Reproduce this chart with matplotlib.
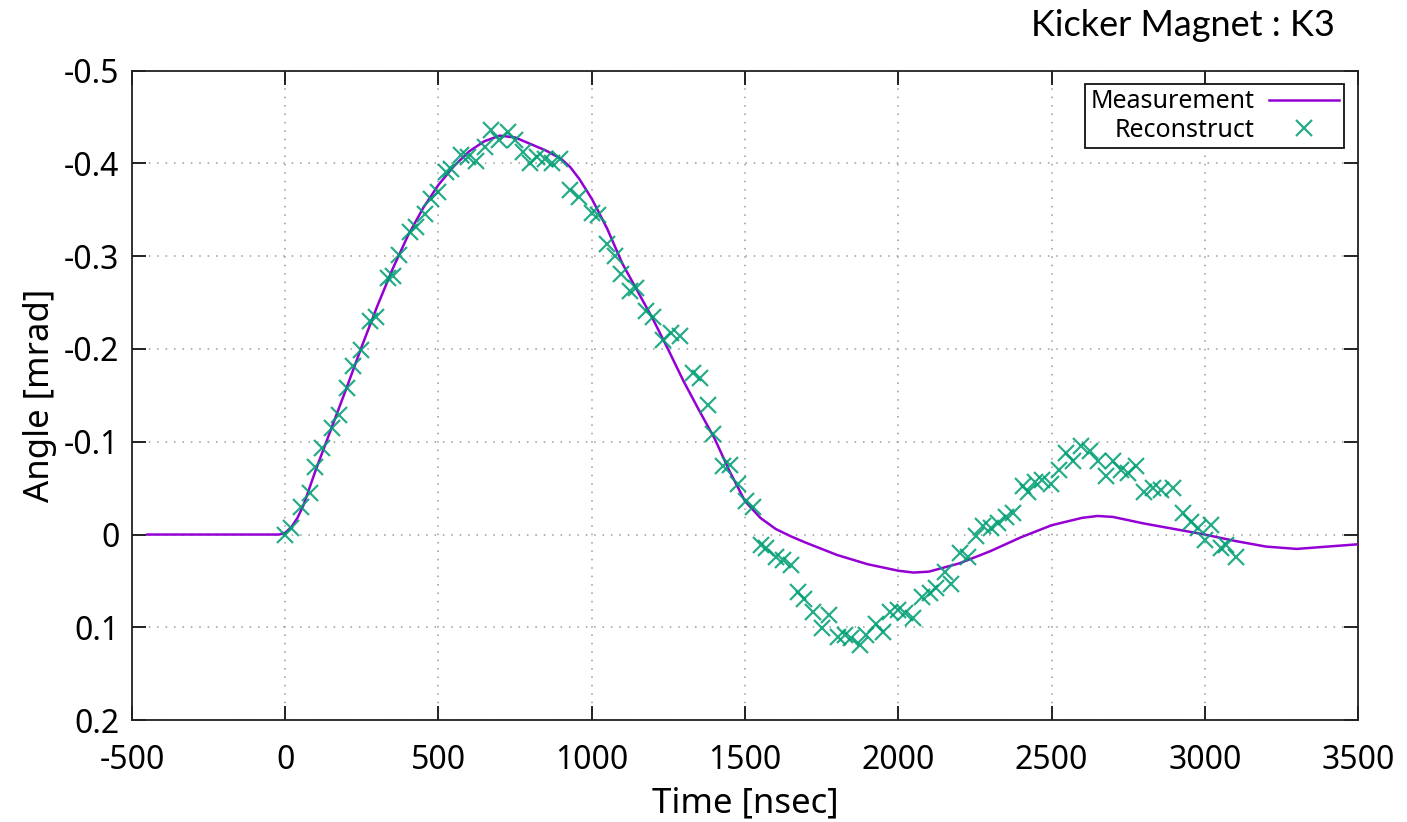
#!/usr/bin/env python3
"""Kicker magnet K3: measured kick angle waveform vs. beam-based reconstruction."""

from __future__ import annotations

import matplotlib

matplotlib.use("Agg")
import matplotlib.pyplot as plt

# measured waveform (time in nsec, angle in mrad)
meas_time = [
    -450, -300, -100, -20, 0, 20, 40, 60, 100, 150, 200, 250, 300, 350, 400,
    450, 500, 550, 600, 650, 700, 750, 800, 850, 900, 930, 960, 1000, 1050,
    1100, 1150, 1200, 1250, 1300, 1350, 1400, 1450, 1500, 1550, 1600, 1650,
    1700, 1800, 1900, 2000, 2050, 2100, 2200, 2300, 2400, 2500, 2600, 2650,
    2700, 2800, 2900, 3000, 3100, 3200, 3300, 3400, 3500,
]
meas_angle = [
    0.0, 0.0, 0.0, 0.0, -0.002, -0.008, -0.018, -0.032, -0.070, -0.114,
    -0.158, -0.203, -0.246, -0.286, -0.322, -0.352, -0.377, -0.397, -0.413,
    -0.424, -0.430, -0.428, -0.421, -0.414, -0.405, -0.396, -0.383, -0.362,
    -0.330, -0.292, -0.262, -0.232, -0.199, -0.165, -0.134, -0.104, -0.068,
    -0.036, -0.018, -0.006, 0.002, 0.009, 0.022, 0.032, 0.039, 0.041, 0.040,
    0.031, 0.018, 0.003, -0.010, -0.018, -0.020, -0.019, -0.012, -0.006,
    0.000, 0.007, 0.013, 0.0155, 0.013, 0.0105,
]

# reconstructed kick from BPM data
reco_time = [
    0, 20, 53, 80, 96, 121, 151, 175, 203, 221, 246, 276, 297, 335, 352, 371,
    406, 425, 455, 477, 498, 526, 542, 575, 596, 624, 651, 672, 697, 727, 749,
    776, 797, 821, 846, 871, 895, 930, 958, 1001, 1020, 1050, 1075, 1097, 1124,
    1145, 1178, 1200, 1232, 1260, 1287, 1330, 1352, 1379, 1395, 1428, 1450,
    1477, 1504, 1526, 1553, 1570, 1602, 1624, 1651, 1673, 1694, 1721, 1752,
    1774, 1803, 1825, 1847, 1874, 1896, 1928, 1950, 1972, 1999, 2021, 2048,
    2078, 2102, 2124, 2151, 2173, 2200, 2227, 2254, 2276, 2303, 2325, 2352,
    2374, 2407, 2423, 2445, 2470, 2497, 2524, 2548, 2570, 2597, 2624, 2651,
    2678, 2700, 2727, 2749, 2776, 2803, 2830, 2858, 2896, 2928, 2956, 2977,
    3000, 3021, 3053, 3070, 3102,
]
reco_angle = [
    0.000, -0.007, -0.030, -0.045, -0.073, -0.093, -0.115, -0.129, -0.158,
    -0.182, -0.199, -0.230, -0.234, -0.277, -0.279, -0.301, -0.326, -0.331,
    -0.346, -0.362, -0.369, -0.391, -0.394, -0.409, -0.407, -0.403, -0.418,
    -0.436, -0.425, -0.434, -0.425, -0.412, -0.401, -0.407, -0.405, -0.400,
    -0.405, -0.371, -0.364, -0.347, -0.344, -0.313, -0.300, -0.281, -0.263,
    -0.266, -0.241, -0.234, -0.210, -0.217, -0.214, -0.174, -0.169, -0.140,
    -0.108, -0.074, -0.075, -0.054, -0.036, -0.030, 0.011, 0.015, 0.024,
    0.027, 0.033, 0.062, 0.069, 0.083, 0.101, 0.087, 0.110, 0.108, 0.112,
    0.119, 0.108, 0.096, 0.105, 0.083, 0.081, 0.085, 0.090, 0.067, 0.063,
    0.058, 0.040, 0.053, 0.020, 0.024, 0.002, -0.009, -0.007, -0.012, -0.019,
    -0.023, -0.052, -0.046, -0.057, -0.059, -0.055, -0.070, -0.088, -0.079,
    -0.095, -0.090, -0.079, -0.063, -0.079, -0.070, -0.066, -0.074, -0.046,
    -0.050, -0.048, -0.050, -0.023, -0.014, -0.007, 0.006, -0.010, 0.015,
    0.011, 0.024,
]

x_ticks = [-500, 0, 500, 1000, 1500, 2000, 2500, 3000, 3500]
y_ticks = [-0.5, -0.4, -0.3, -0.2, -0.1, 0.0, 0.1, 0.2]

MEAS_COLOR = "#9400d3"
RECO_COLOR = "#009e73"
TICK_FONT = "Noto Sans"


def main() -> None:
    plt.rcParams["axes.unicode_minus"] = False
    plt.rcParams["font.family"] = TICK_FONT

    fig = plt.figure(figsize=(14.07, 8.22), dpi=100)
    ax = fig.add_axes([0.0938, 0.124, 0.8714, 0.790])

    ax.plot(meas_time, meas_angle, color=MEAS_COLOR, lw=1.8, label="Measurement", zorder=3)
    ax.plot(
        reco_time, reco_angle, ls="none", marker="x", ms=11, mew=1.6,
        color=RECO_COLOR, alpha=0.85, label="Reconstruct", zorder=4,
    )

    ax.set_xlim(-500, 3500)
    ax.set_ylim(0.2, -0.5)  # angle axis runs inverted
    ax.set_xticks(x_ticks)
    ax.set_xticklabels([f"{v:g}" for v in x_ticks])
    ax.set_yticks(y_ticks)
    ax.set_yticklabels([f"{v:g}" for v in y_ticks])

    ax.tick_params(which="major", direction="in", length=10, width=1.3,
                   top=True, right=True, labelsize=23, color="#111111")
    ax.tick_params(axis="x", pad=17)
    ax.tick_params(axis="y", pad=9)
    for sp in ax.spines.values():
        sp.set_linewidth(1.3)
        sp.set_color("#222222")

    ax.grid(True, color="#9a9a9a", lw=1.1, ls=(0, (1, 4.5)))
    ax.set_axisbelow(True)

    ax.set_xlabel("Time [nsec]", fontsize=25, labelpad=7)
    ax.set_ylabel("Angle [mrad]", fontsize=25, labelpad=5)

    leg = ax.legend(
        loc="upper right", markerfirst=False, fontsize=18, frameon=True,
        fancybox=False, framealpha=1.0, edgecolor="#111111",
        handlelength=2.8, handletextpad=0.6, labelspacing=0.15,
        borderpad=0.2, borderaxespad=0.55,
    )
    leg.get_frame().set_linewidth(1.3)

    fig.text(1335 / 1407, 1 - 36 / 822, "Kicker Magnet : K3", family="Lato",
             fontsize=26, ha="right", va="baseline")

    fig.savefig("out.png", dpi=100)
    plt.close(fig)


if __name__ == "__main__":
    main()
